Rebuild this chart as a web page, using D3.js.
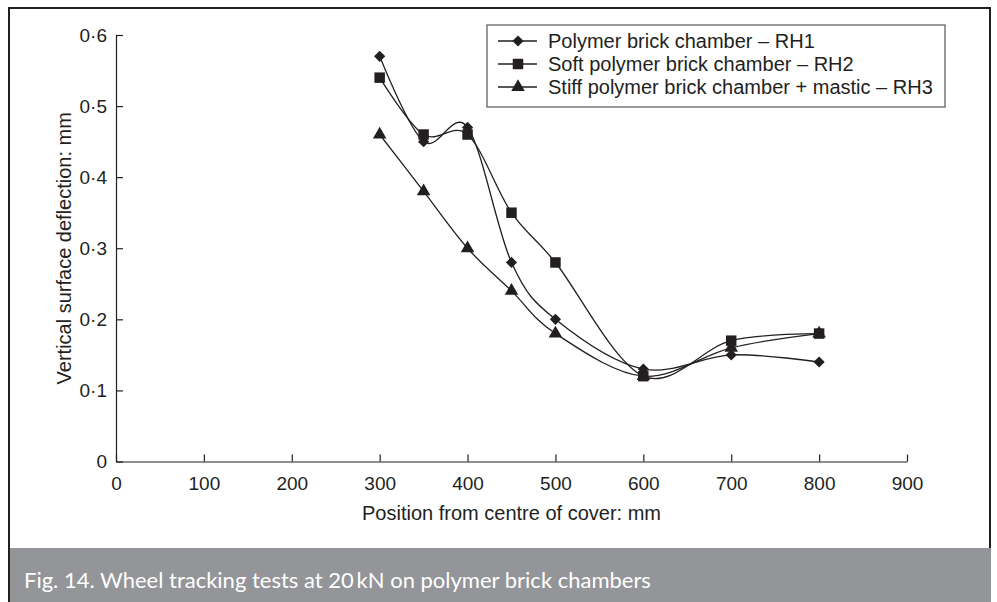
<!DOCTYPE html>
<html>
<head>
<meta charset="utf-8">
<script src="https://cdn.jsdelivr.net/npm/d3@7"></script>
<style>
  html, body { margin: 0; padding: 0; background: #fff; }
  svg { display: block; }
</style>
</head>
<body>
<svg id="chart" width="997" height="602"></svg>
<script>
// Positions along the chamber (mm from centre of cover)
const positions = [300, 350, 400, 450, 500, 600, 700, 800];

// Vertical surface deflection (mm) for each chamber type
const rh1 = [0.57, 0.45, 0.47, 0.28, 0.20, 0.13, 0.15, 0.14];
const rh2 = [0.54, 0.46, 0.46, 0.35, 0.28, 0.12, 0.17, 0.18];
const rh3 = [0.46, 0.38, 0.30, 0.24, 0.18, 0.12, 0.16, 0.18];

const seriesNames = [
  "Polymer brick chamber \u2013 RH1",
  "Soft polymer brick chamber \u2013 RH2",
  "Stiff polymer brick chamber + mastic \u2013 RH3"
];
const seriesMarkers = ["diamond", "square", "triangle"];

const xTicks = [0, 100, 200, 300, 400, 500, 600, 700, 800, 900];
const yTicks = [0, 0.1, 0.2, 0.3, 0.4, 0.5, 0.6];
const yTickLabels = ["0", "0\u00b71", "0\u00b72", "0\u00b73", "0\u00b74", "0\u00b75", "0\u00b76"];

const caption = "Fig. 14. Wheel tracking tests at 20\u2009kN on polymer brick chambers";

const ink = "#231f20";
const font = "'Liberation Sans', Arial, Helvetica, sans-serif";

const svg = d3.select("#chart");

// Outer frame
svg.append("rect")
  .attr("x", 9).attr("y", 8).attr("width", 981).attr("height", 600)
  .attr("fill", "none").attr("stroke", ink).attr("stroke-width", 2);

// Caption band
svg.append("rect")
  .attr("x", 10).attr("y", 548).attr("width", 981).attr("height", 54)
  .attr("fill", "#939598");
svg.append("text")
  .attr("x", 24).attr("y", 588)
  .attr("fill", "#fff")
  .attr("font-family", "Lato, 'Open Sans', sans-serif")
  .attr("font-size", 22)
  .text(caption);

// Scales
const x = d3.scaleLinear().domain([0, 900]).range([116, 907]);
const y = d3.scaleLinear().domain([0, 0.6]).range([461.5, 35]);

// Axes (ticks point inward)
const xAxis = svg.append("g")
  .attr("transform", `translate(0,${y(0)})`)
  .call(d3.axisBottom(x).tickValues(xTicks).tickSizeInner(-7).tickSizeOuter(0).tickPadding(15)
    .tickFormat(d3.format("d")));
const yAxis = svg.append("g")
  .attr("transform", `translate(${x(0)},0)`)
  .call(d3.axisLeft(y).tickValues(yTicks).tickSizeInner(-7).tickSizeOuter(0).tickPadding(9)
    .tickFormat((d, i) => yTickLabels[i]));

[xAxis, yAxis].forEach(g => {
  g.selectAll("path, line").attr("stroke", ink).attr("stroke-width", 1.2);
  g.selectAll("text").attr("fill", ink).attr("font-family", font).attr("font-size", 19);
  g.attr("font-family", null);
});

// Axis titles
svg.append("text")
  .attr("x", (x(0) + x(900)) / 2).attr("y", 520)
  .attr("text-anchor", "middle")
  .attr("fill", ink).attr("font-family", font).attr("font-size", 20)
  .text("Position from centre of cover: mm");
svg.append("text")
  .attr("transform", `translate(71,${(y(0) + y(0.6)) / 2}) rotate(-90)`)
  .attr("text-anchor", "middle")
  .attr("fill", ink).attr("font-family", font).attr("font-size", 20)
  .text("Vertical surface deflection: mm");

// Marker symbols
const symbolFor = {
  diamond: d3.symbol().type(d3.symbolDiamond2).size(80),
  square: d3.symbol().type(d3.symbolSquare).size(110),
  triangle: d3.symbol().type(d3.symbolTriangle).size(80)
};

const allSeries = [rh1, rh2, rh3].map((vals, i) => ({
  name: seriesNames[i],
  marker: seriesMarkers[i],
  points: positions.map((p, j) => ({ x: p, y: vals[j] }))
}));

const line = d3.line()
  .x(d => x(d.x)).y(d => y(d.y))
  .curve(d3.curveCatmullRom.alpha(0));

const plot = svg.append("g");
allSeries.forEach(s => {
  plot.append("path")
    .attr("d", line(s.points))
    .attr("fill", "none").attr("stroke", ink).attr("stroke-width", 1.3);
});
allSeries.forEach(s => {
  plot.selectAll(null).data(s.points).enter().append("path")
    .attr("transform", d => `translate(${x(d.x)},${y(d.y)})`)
    .attr("d", symbolFor[s.marker]())
    .attr("fill", ink);
});

// Legend
const legend = svg.append("g");
legend.append("rect")
  .attr("x", 487).attr("y", 25).attr("width", 458).attr("height", 82)
  .attr("fill", "#fff").attr("stroke", "#555").attr("stroke-width", 1.2);
allSeries.forEach((s, i) => {
  const ly = 41 + i * 23;
  legend.append("line")
    .attr("x1", 498).attr("x2", 537).attr("y1", ly).attr("y2", ly)
    .attr("stroke", ink).attr("stroke-width", 1.3);
  legend.append("path")
    .attr("transform", `translate(518,${ly})`)
    .attr("d", symbolFor[s.marker]())
    .attr("fill", ink);
  legend.append("text")
    .attr("x", 548).attr("y", ly).attr("dy", "0.36em")
    .attr("fill", ink).attr("font-family", font).attr("font-size", 20)
    .text(s.name);
});
</script>
</body>
</html>
